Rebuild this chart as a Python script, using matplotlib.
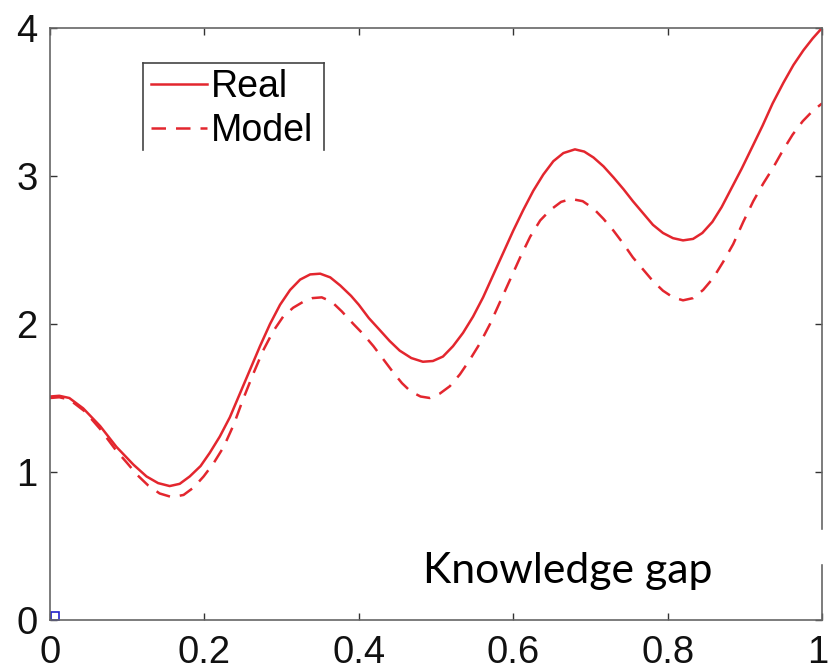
import numpy as np
import matplotlib.pyplot as plt
from matplotlib.lines import Line2D
from matplotlib.patches import Rectangle
from matplotlib.transforms import ScaledTranslation

# values
real_x = [0.0, 0.012, 0.025, 0.043, 0.065, 0.086, 0.108, 0.125, 0.14, 0.155,
          0.168, 0.181, 0.195, 0.207, 0.22, 0.233, 0.246, 0.259, 0.272, 0.285,
          0.298, 0.311, 0.324, 0.337, 0.35, 0.363, 0.376, 0.39, 0.40, 0.413,
          0.427, 0.44, 0.453, 0.468, 0.483, 0.496, 0.509, 0.522, 0.535, 0.548,
          0.561, 0.574, 0.587, 0.60, 0.613, 0.626, 0.639, 0.652, 0.665, 0.68,
          0.692, 0.704, 0.717, 0.73, 0.743, 0.755, 0.768, 0.781, 0.794, 0.807,
          0.82, 0.833, 0.845, 0.858, 0.87, 0.883, 0.896, 0.91, 0.923, 0.936,
          0.95, 0.963, 0.976, 0.988, 1.0]
real_y = [1.51, 1.515, 1.50, 1.43, 1.31, 1.17, 1.05, 0.97, 0.925, 0.905,
          0.92, 0.97, 1.04, 1.13, 1.24, 1.37, 1.53, 1.69, 1.85, 2.00,
          2.13, 2.23, 2.30, 2.335, 2.34, 2.315, 2.26, 2.19, 2.13, 2.04,
          1.96, 1.885, 1.82, 1.77, 1.745, 1.75, 1.78, 1.85, 1.94, 2.05,
          2.18, 2.33, 2.48, 2.63, 2.77, 2.90, 3.01, 3.10, 3.155, 3.18,
          3.165, 3.125, 3.065, 2.99, 2.91, 2.83, 2.75, 2.67, 2.615, 2.58,
          2.565, 2.575, 2.615, 2.69, 2.79, 2.92, 3.05, 3.20, 3.34, 3.49,
          3.63, 3.75, 3.85, 3.93, 4.0]

model_x = [0.0, 0.012, 0.025, 0.045, 0.065, 0.085, 0.1, 0.113, 0.127, 0.142,
           0.158, 0.173, 0.186, 0.199, 0.212, 0.225, 0.238, 0.25, 0.263, 0.276,
           0.289, 0.302, 0.315, 0.328, 0.34, 0.352, 0.365, 0.378, 0.393, 0.406,
           0.419, 0.432, 0.445, 0.456, 0.467, 0.48, 0.492, 0.505, 0.518, 0.531,
           0.544, 0.557, 0.57, 0.583, 0.596, 0.609, 0.622, 0.635, 0.648, 0.662,
           0.675, 0.69, 0.704, 0.717, 0.73, 0.743, 0.755, 0.768, 0.781, 0.794,
           0.807, 0.82, 0.833, 0.846, 0.859, 0.872, 0.885, 0.898, 0.911, 0.924,
           0.936, 0.949, 0.962, 0.975, 0.988, 1.0]
model_y = [1.50, 1.505, 1.49, 1.41, 1.29, 1.15, 1.06, 0.98, 0.91, 0.855,
           0.83, 0.845, 0.895, 0.97, 1.06, 1.17, 1.32, 1.49, 1.66, 1.82,
           1.95, 2.05, 2.11, 2.15, 2.175, 2.18, 2.15, 2.085, 2.00, 1.93,
           1.85, 1.76, 1.67, 1.60, 1.545, 1.51, 1.50, 1.53, 1.58, 1.66,
           1.76, 1.87, 2.00, 2.15, 2.30, 2.45, 2.59, 2.70, 2.77, 2.825,
           2.845, 2.83, 2.78, 2.71, 2.63, 2.54, 2.45, 2.37, 2.29, 2.225,
           2.18, 2.16, 2.175, 2.23, 2.31, 2.42, 2.54, 2.69, 2.83, 2.95,
           3.05, 3.17, 3.28, 3.37, 3.44, 3.49]

xticks = [0, 0.2, 0.4, 0.6, 0.8, 1]
xticklabels = ['0', '0.2', '0.4', '0.6', '0.8', '1']
yticks = [0, 1, 2, 3, 4]
yticklabels = ['0', '1', '2', '3', '4']

W, H = 829, 672
red = '#e3262e'

plt.rcParams['font.family'] = ['Liberation Sans', 'DejaVu Sans']

fig = plt.figure(figsize=(W / 100, H / 100), dpi=100)
ax = fig.add_axes([50 / W, (H - 620) / H, (822 - 50) / W, (620 - 28) / H])

ax.plot(real_x, real_y, color=red, lw=1.8, label='Real')
ax.plot(model_x, model_y, color=red, lw=1.8, dashes=(5.8, 4), label='Model')

ax.set_xlim(0, 1)
ax.set_ylim(0, 4)
ax.set_xticks(xticks)
ax.set_xticklabels(xticklabels)
ax.set_yticks(yticks)
ax.set_yticklabels(yticklabels)
ax.tick_params(direction='in', top=True, right=True, length=5, width=1,
               labelsize=27.5, color='#333333', labelcolor='#111111')
ax.tick_params(axis='x', pad=11)
ax.tick_params(axis='y', pad=9)
for s in ax.spines.values():
    s.set_color('#666666')
    s.set_linewidth(1.2)

# keep the last x label inside the picture
last = ax.get_xticklabels()[-1]
last.set_transform(last.get_transform() +
                   ScaledTranslation(-4 / 100, 0, fig.dpi_scale_trans))

# tiny blue mark at the origin
ax.plot([0.006], [0.03], marker='s', ms=6, mfc='none', mec='#2222cc',
        mew=1.2, clip_on=False)

# legend (frame drawn by hand, bottom edge cut off in the original)
leg = ax.legend(loc='center left', bbox_to_anchor=(151 / W, 1 - 109 / H),
                bbox_transform=fig.transFigure, frameon=False, fontsize=27,
                borderpad=0, borderaxespad=0, handlelength=1.5,
                handletextpad=0.1, labelspacing=0.2)
for xs, ys in [([143, 324], [63, 63]), ([143, 143], [63, 150]),
               ([324, 324], [63, 150])]:
    fig.add_artist(Line2D([x / W for x in xs], [1 - y / H for y in ys],
                          color='#444444', lw=1.2))

# white patch that interrupts the right spine
fig.add_artist(Rectangle((812 / W, 1 - 563 / H), 17 / W, 33 / H,
                         color='white', zorder=10))

fig.text(423 / W, 1 - 583 / H, 'Knowledge gap', fontsize=30.8,
         family=['Lato', 'DejaVu Sans'], ha='left', va='baseline')

fig.savefig('out.png', dpi=100)
